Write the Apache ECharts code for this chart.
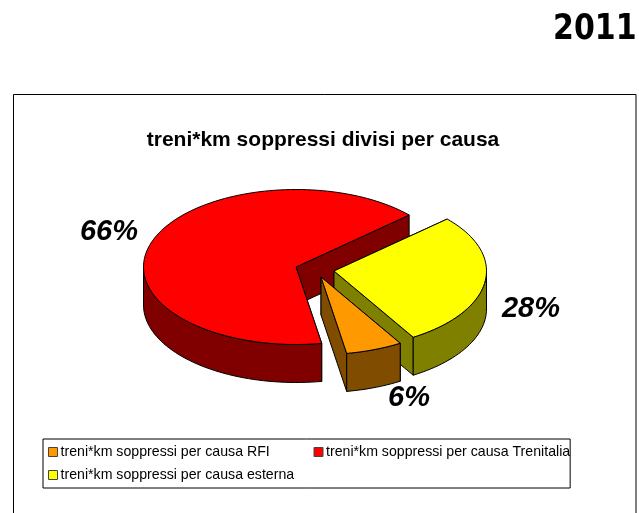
<!DOCTYPE html>
<html><head><meta charset="utf-8">
<style>html,body{margin:0;padding:0;background:#fff}#c{width:639px;height:513px}</style>
<script src="https://cdn.jsdelivr.net/npm/echarts@6/dist/echarts.min.js"></script>
</head><body><div id="c"></div>
<script>
const categories = ['treni*km soppressi per causa RFI','treni*km soppressi per causa Trenitalia','treni*km soppressi per causa esterna'];
const shares = [6, 66, 28];
const topColors = ['#FF9900','#FF0000','#FFFF00'];
const sideColors = ['#804C00','#800000','#808000'];
const firstSliceAngle = 148.7;
const RX = 152.5, RY = 77.5, DEPTH = 38;
const apexes = [[321,277],[296,267],[334,271]];
const labelPos = [[409,398],[109,232],[531,309]];
const total = shares.reduce((a,b)=>a+b,0);
const starts = [];
shares.reduce((s,v,i)=>{starts[i]=s;return s+v/total*360;},firstSliceAngle);
const pt=(c,a,dy=0)=>{const r=a*Math.PI/180;return [c[0]+RX*Math.sin(r),c[1]-RY*Math.cos(r)+dy];};
const lineStyle={stroke:'#000',lineWidth:1,lineJoin:'round'};
function arc(c,a0,a1,dy){const out=[];const n=Math.max(2,Math.ceil(Math.abs(a1-a0)/2));for(let i=0;i<=n;i++)out.push(pt(c,a0+(a1-a0)*i/n,dy));return out;}
function slice(i){
  return function(params,api){
    const v=api.value(0), a0=starts[i], a1=a0+v/total*360, c=apexes[i], kids=[];
    // radial walls, farthest first
    [a0,a1].sort((x,y)=>pt(c,x)[1]-pt(c,y)[1]).forEach(a=>{
      const p=pt(c,a);
      kids.push({type:'polygon',shape:{points:[c,p,[p[0],p[1]+DEPTH],[c[0],c[1]+DEPTH]]},style:{fill:sideColors[i],...lineStyle}});
    });
    // outer rim, front facing part only
    for(const [lo,hi] of [[90,270],[450,630]]){
      const s=Math.max(a0,lo), e=Math.min(a1,hi);
      if(e>s){
        kids.push({type:'polygon',shape:{points:[...arc(c,s,e,0),...arc(c,e,s,DEPTH)]},style:{fill:sideColors[i],...lineStyle}});
      }
    }
    kids.push({type:'polygon',shape:{points:[c,...arc(c,a0,a1,0)]},style:{fill:topColors[i],...lineStyle}});
    kids.push({type:'text',style:{text:v+'%',x:labelPos[i][0],y:labelPos[i][1],align:'center',verticalAlign:'middle',fill:'#000',font:'italic bold 29px "Liberation Sans"'}});
    return {type:'group',children:kids};
  };
}
const order=[1,2,0];
const chart=echarts.init(document.getElementById('c'),null,{renderer:'canvas'});
chart.setOption({
  animation:false,
  backgroundColor:'#fff',
  title:[
    {text:'treni*km soppressi divisi per causa',left:318,top:125,textAlign:'center',textStyle:{fontFamily:'Liberation Sans',fontSize:21,fontWeight:'bold',color:'#000'}}
  ],
  legend:{
    data:categories.map((name,k)=>({name,itemStyle:{color:topColors[k],borderColor:'#444',borderWidth:1}})),
    left:43,top:439,width:530,padding:[6,0,6,5],itemGap:9,itemWidth:9,itemHeight:9,icon:'rect',
    borderColor:'#000',borderWidth:1,
    textStyle:{fontFamily:'Liberation Sans',fontSize:14.17,color:'#000',width:244,overflow:'none',lineHeight:14,padding:[0,0,0,-2]}
  },
  graphic:[
    {type:'rect',silent:true,z:-10,shape:{x:13.5,y:94.5,width:622.5,height:440},style:{fill:'#fff',stroke:'#000',lineWidth:1}},
    {type:'text',silent:true,x:553,y:30,scaleX:0.79,scaleY:0.94,style:{text:'2011',verticalAlign:'middle',fill:'#000',font:'bold 38px "DejaVu Sans"'}}
  ],
  series:order.map(i=>({type:'custom',name:categories[i],coordinateSystem:'none',silent:true,z:2+order.indexOf(i),renderItem:slice(i),data:[[shares[i]]],itemStyle:{color:topColors[i]}}))
});
</script></body></html>
